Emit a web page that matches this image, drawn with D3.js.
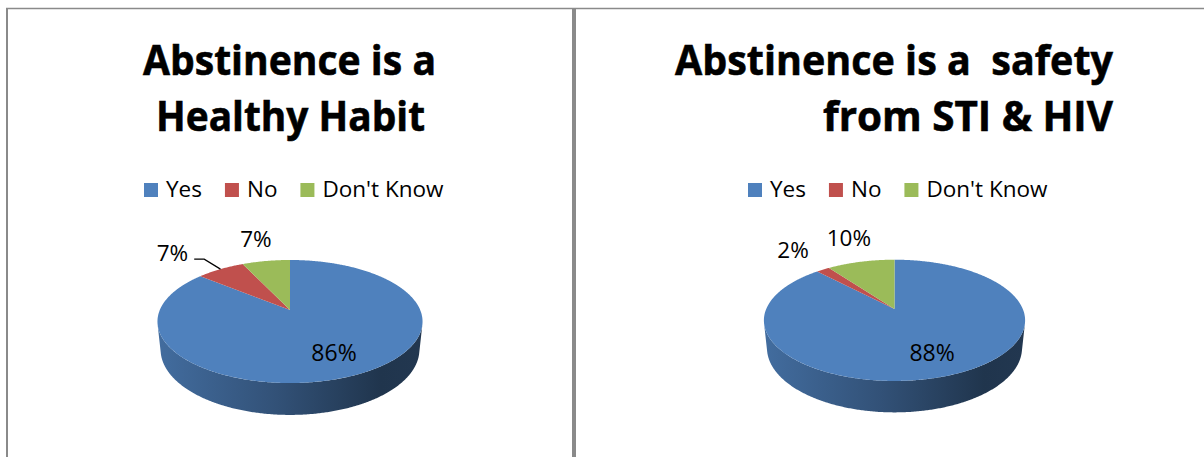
<!DOCTYPE html>
<html>
<head>
<meta charset="utf-8">
<script src="https://cdn.jsdelivr.net/npm/d3@7"></script>
<style>
  html, body { margin: 0; padding: 0; background: #fff; }
  svg { display: block; }
  text { font-family: 'Open Sans', 'Liberation Sans', sans-serif; white-space: pre; }
</style>
</head>
<body>
<svg id="chart" width="1204" height="457"></svg>
<script>
// ---------- DATA ----------
const categories = ["Yes", "No", "Don't Know"];
const healthyValues = [86, 7, 7];
const safetyValues = [88, 2, 10];
const healthyTitle = ["Abstinence is a", "Healthy Habit"];
const safetyTitle = ["Abstinence is a  safety", "from STI & HIV"];
const sliceColors = ["#4f81bd", "#c0504d", "#9bbb59"];

// ---------- LAYOUT ----------
const charts = [
  {
    id: "h", values: healthyValues, title: healthyTitle,
    cx: 290, apexY: 310, R: 130.2,
    titleX: [143, 156], titleLen: [293, 269],
    legendX: 144,
    outside: { "No": { dx: -48, dy: -16, leader: true }, "Don't Know": { dx: -10, dy: -22 } }
  },
  {
    id: "s", values: safetyValues, title: safetyTitle,
    cx: 894.5, apexY: 309, R: 128.3,
    titleX: [675, 823], titleLen: [438, 290],
    legendX: 748,
    outside: { "No": { dx: -30, dy: -20 }, "Don't Know": { dx: -12, dy: -24 } }
  }
];

// perspective parameters (in units of radius)
const D = 4.76, ca = 0.89, sa = 0.456, depth = 0.245;
const eyeZ = D * ca;
const frontMin = Math.acos(-1 / eyeZ);
const frontMax = 2 * Math.PI - frontMin;

const svg = d3.select("#chart");
const defs = svg.append("defs");
const color = d3.scaleOrdinal().domain(categories).range(sliceColors);

// frame
svg.append("line").attr("x1", 6).attr("x2", 1204).attr("y1", 8.5).attr("y2", 8.5)
  .attr("stroke", "#8a8a8a").attr("stroke-width", 1.4);
svg.append("line").attr("x1", 7).attr("x2", 7).attr("y1", 8).attr("y2", 457)
  .attr("stroke", "#8a8a8a").attr("stroke-width", 2);
svg.append("line").attr("x1", 574).attr("x2", 574).attr("y1", 8).attr("y2", 457)
  .attr("stroke", "#8a8a8a").attr("stroke-width", 4);

const pie = d3.pie().sort(null).value(d => d.value);
const fmt = v => v + "%";

charts.forEach(ch => {
  const g = svg.append("g");
  const proj = (X, Y, Z) => {
    const yv = Y * ca - Z * sa;
    const zv = Y * sa + Z * ca;
    const f = D / (D - zv);
    return [ch.cx + ch.R * X * f, ch.apexY - ch.R * yv * f];
  };
  const rim = (a, Y, r = 1) => proj(r * Math.sin(a), Y, -r * Math.cos(a));
  const arcPts = (a0, a1, Y) => {
    const n = Math.max(2, Math.ceil(Math.abs(a1 - a0) / (Math.PI / 360)));
    return d3.range(n + 1).map(i => rim(a0 + (a1 - a0) * i / n, Y));
  };

  const data = categories.map((c, i) => ({ cat: c, value: ch.values[i] }));
  const arcs = pie(data);

  categories.forEach((c, i) => {
    const base = d3.color(color(c));
    const grad = defs.append("linearGradient")
      .attr("id", `side-${ch.id}-${i}`)
      .attr("gradientUnits", "userSpaceOnUse")
      .attr("x1", ch.cx - ch.R).attr("x2", ch.cx + ch.R)
      .attr("y1", 0).attr("y2", 0);
    grad.append("stop").attr("offset", 0).attr("stop-color", base.darker(0.5));
    grad.append("stop").attr("offset", 0.45).attr("stop-color", base.darker(1.3));
    grad.append("stop").attr("offset", 0.85).attr("stop-color", base.darker(2.5));
    grad.append("stop").attr("offset", 1).attr("stop-color", base.darker(2.4));
  });

  // sides
  arcs.forEach((a, i) => {
    const s = Math.max(a.startAngle, frontMin), e = Math.min(a.endAngle, frontMax);
    if (e <= s) return;
    const pts = arcPts(s, e, 0).concat(arcPts(e, s, -depth));
    g.append("path")
      .attr("d", d3.line()(pts) + "Z")
      .attr("fill", `url(#side-${ch.id}-${i})`);
  });

  // top faces
  arcs.forEach(a => {
    const pts = [proj(0, 0, 0)].concat(arcPts(a.startAngle, a.endAngle, 0));
    g.append("path")
      .attr("d", d3.line()(pts) + "Z")
      .attr("fill", color(a.data.cat));
  });

  // labels
  arcs.forEach(a => {
    const mid = (a.startAngle + a.endAngle) / 2;
    const txt = fmt(a.data.value);
    const o = ch.outside[a.data.cat];
    if (!o) {
      const [x, y] = rim(mid, 0, 0.7);
      g.append("text").attr("x", x).attr("y", y + 8.5)
        .attr("text-anchor", "middle").attr("font-size", 23).attr("fill", "#000")
        .text(txt);
    } else {
      const [rx, ry] = rim(mid, 0);
      const lx = rx + o.dx, ly = ry + o.dy;
      const t = g.append("text").attr("x", lx).attr("y", ly + 8)
        .attr("text-anchor", "middle").attr("font-size", 22.5).attr("fill", "#000")
        .text(txt);
      if (o.leader) {
        const w = t.node().getComputedTextLength();
        const x0 = lx + w / 2 + 6;
        g.append("path")
          .attr("d", d3.line()([[x0, ly + 6], [x0 + 10, ly + 6], [rx, ry]]))
          .attr("fill", "none").attr("stroke", "#000").attr("stroke-width", 1.2);
      }
    }
  });

  // title
  const tb = [75, 131];
  ch.title.forEach((line, i) => {
    g.append("text").attr("x", ch.titleX[i]).attr("y", tb[i])
      .attr("font-size", 42).attr("font-weight", 700).attr("fill", "#000")
      .attr("stroke", "#000").attr("stroke-width", 0.6)
      .attr("textLength", ch.titleLen[i]).attr("lengthAdjust", "spacingAndGlyphs")
      .text(line);
  });

  // legend
  let lx = ch.legendX;
  categories.forEach(c => {
    g.append("rect").attr("x", lx).attr("y", 183).attr("width", 14).attr("height", 14)
      .attr("fill", color(c));
    const t = g.append("text").attr("x", lx + 22).attr("y", 197)
      .attr("font-size", 22.5).attr("fill", "#000").text(c);
    lx += 22 + t.node().getComputedTextLength() + 23;
  });
});
</script>
</body>
</html>
